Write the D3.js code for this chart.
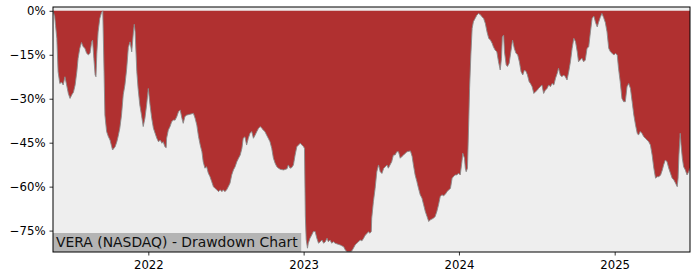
<!DOCTYPE html>
<html>
<head>
<meta charset="utf-8">
<script src="https://cdn.jsdelivr.net/npm/d3@7"></script>
<style>
  body { margin: 0; background: #fff; }
  svg { display: block; font-family: "DejaVu Sans", sans-serif; }
</style>
</head>
<body>
<svg id="chart" width="700" height="280"></svg>
<script>
const title = 'VERA (NASDAQ) - Drawdown Chart';

const dates = [
  '2021-05-22', '2021-05-26', '2021-05-28', '2021-05-31', '2021-06-03', '2021-06-07', '2021-06-11', '2021-06-15',
  '2021-06-19', '2021-06-23', '2021-06-27', '2021-07-01', '2021-07-05', '2021-07-09', '2021-07-13', '2021-07-17',
  '2021-07-20', '2021-07-24', '2021-07-28', '2021-08-01', '2021-08-05', '2021-08-09', '2021-08-13', '2021-08-17',
  '2021-08-21', '2021-08-23', '2021-08-26', '2021-08-29', '2021-08-31', '2021-09-02', '2021-09-05', '2021-09-09',
  '2021-09-13', '2021-09-16', '2021-09-19', '2021-09-21', '2021-09-25', '2021-09-29', '2021-10-03', '2021-10-07',
  '2021-10-09', '2021-10-15', '2021-10-19', '2021-10-22', '2021-10-26', '2021-10-30', '2021-11-03', '2021-11-07',
  '2021-11-11', '2021-11-15', '2021-11-19', '2021-11-23', '2021-11-27', '2021-11-29', '2021-12-01', '2021-12-03',
  '2021-12-05', '2021-12-08', '2021-12-12', '2021-12-16', '2021-12-20', '2021-12-24', '2021-12-28', '2022-01-01',
  '2022-01-05', '2022-01-09', '2022-01-13', '2022-01-17', '2022-01-21', '2022-01-25', '2022-01-29', '2022-02-02',
  '2022-02-05', '2022-02-09', '2022-02-12', '2022-02-13', '2022-02-17', '2022-02-21', '2022-02-25', '2022-03-01',
  '2022-03-05', '2022-03-09', '2022-03-13', '2022-03-17', '2022-03-21', '2022-03-24', '2022-03-28', '2022-04-01',
  '2022-04-09', '2022-04-17', '2022-04-21', '2022-04-25', '2022-04-29', '2022-05-03', '2022-05-07', '2022-05-10',
  '2022-05-14', '2022-05-18', '2022-05-22', '2022-05-26', '2022-05-30', '2022-06-03', '2022-06-07', '2022-06-11',
  '2022-06-15', '2022-06-19', '2022-06-23', '2022-06-26', '2022-06-30', '2022-07-04', '2022-07-08', '2022-07-12',
  '2022-07-16', '2022-07-20', '2022-07-24', '2022-07-28', '2022-08-01', '2022-08-05', '2022-08-09', '2022-08-12',
  '2022-08-16', '2022-08-20', '2022-08-24', '2022-08-28', '2022-09-01', '2022-09-05', '2022-09-09', '2022-09-13',
  '2022-09-17', '2022-09-21', '2022-09-25', '2022-09-28', '2022-10-02', '2022-10-06', '2022-10-10', '2022-10-14',
  '2022-10-18', '2022-10-22', '2022-10-26', '2022-10-30', '2022-11-03', '2022-11-07', '2022-11-15', '2022-11-23',
  '2022-11-26', '2022-11-30', '2022-12-04', '2022-12-08', '2022-12-12', '2022-12-16', '2022-12-20', '2022-12-24',
  '2022-12-28', '2023-01-01', '2023-01-03', '2023-01-05', '2023-01-07', '2023-01-10', '2023-01-12', '2023-01-16',
  '2023-01-20', '2023-01-24', '2023-01-28', '2023-02-01', '2023-02-05', '2023-02-09', '2023-02-13', '2023-02-17',
  '2023-02-21', '2023-02-25', '2023-02-28', '2023-03-04', '2023-03-08', '2023-03-12', '2023-03-16', '2023-03-24',
  '2023-03-28', '2023-04-05', '2023-04-09', '2023-04-13', '2023-04-20', '2023-04-24', '2023-04-28', '2023-05-02',
  '2023-05-06', '2023-05-10', '2023-05-14', '2023-05-18', '2023-05-22', '2023-05-26', '2023-05-30', '2023-06-02',
  '2023-06-06', '2023-06-09', '2023-06-10', '2023-06-14', '2023-06-18', '2023-06-22', '2023-06-26', '2023-06-30',
  '2023-07-04', '2023-07-08', '2023-07-12', '2023-07-16', '2023-07-19', '2023-07-23', '2023-07-27', '2023-07-31',
  '2023-08-04', '2023-08-08', '2023-08-12', '2023-08-16', '2023-08-20', '2023-08-24', '2023-08-28', '2023-09-01',
  '2023-09-09', '2023-09-13', '2023-09-16', '2023-09-20', '2023-09-24', '2023-09-28', '2023-10-02', '2023-10-06',
  '2023-10-10', '2023-10-14', '2023-10-18', '2023-10-22', '2023-10-26', '2023-11-02', '2023-11-06', '2023-11-10',
  '2023-11-14', '2023-11-18', '2023-11-22', '2023-11-26', '2023-11-30', '2023-12-04', '2023-12-08', '2023-12-12',
  '2023-12-16', '2023-12-19', '2023-12-23', '2023-12-27', '2023-12-31', '2024-01-04', '2024-01-08', '2024-01-10',
  '2024-01-14', '2024-01-16', '2024-01-18', '2024-01-21', '2024-01-24', '2024-01-26', '2024-01-29', '2024-02-01',
  '2024-02-04', '2024-02-08', '2024-02-12', '2024-02-16', '2024-02-20', '2024-02-24', '2024-02-28', '2024-03-03',
  '2024-03-07', '2024-03-11', '2024-03-15', '2024-03-19', '2024-03-22', '2024-03-26', '2024-03-30', '2024-04-03',
  '2024-04-07', '2024-04-10', '2024-04-12', '2024-04-15', '2024-04-17', '2024-04-21', '2024-04-24', '2024-04-28',
  '2024-05-02', '2024-05-06', '2024-05-10', '2024-05-14', '2024-05-18', '2024-05-22', '2024-05-26', '2024-05-30',
  '2024-06-03', '2024-06-07', '2024-06-10', '2024-06-14', '2024-06-17', '2024-06-21', '2024-06-25', '2024-06-29',
  '2024-07-03', '2024-07-06', '2024-07-10', '2024-07-14', '2024-07-18', '2024-07-22', '2024-07-26', '2024-07-30',
  '2024-08-03', '2024-08-07', '2024-08-11', '2024-08-15', '2024-08-19', '2024-08-22', '2024-08-26', '2024-08-30',
  '2024-09-03', '2024-09-07', '2024-09-11', '2024-09-15', '2024-09-19', '2024-09-23', '2024-09-27', '2024-10-01',
  '2024-10-05', '2024-10-08', '2024-10-12', '2024-10-16', '2024-10-20', '2024-10-24', '2024-10-28', '2024-11-01',
  '2024-11-05', '2024-11-09', '2024-11-13', '2024-11-17', '2024-11-21', '2024-11-24', '2024-11-28', '2024-12-02',
  '2024-12-06', '2024-12-10', '2024-12-14', '2024-12-18', '2024-12-22', '2024-12-26', '2024-12-30', '2025-01-03',
  '2025-01-07', '2025-01-10', '2025-01-14', '2025-01-18', '2025-01-22', '2025-01-26', '2025-01-30', '2025-02-03',
  '2025-02-07', '2025-02-11', '2025-02-15', '2025-02-19', '2025-02-23', '2025-02-26', '2025-03-02', '2025-03-06',
  '2025-03-10', '2025-03-14', '2025-03-18', '2025-03-22', '2025-03-26', '2025-03-30', '2025-04-03', '2025-04-07',
  '2025-04-11', '2025-04-15', '2025-04-19', '2025-04-23', '2025-04-26', '2025-04-30', '2025-05-04', '2025-05-08',
  '2025-05-12', '2025-05-16', '2025-05-20', '2025-05-24', '2025-05-28', '2025-05-30', '2025-06-01', '2025-06-04',
  '2025-06-06', '2025-06-09', '2025-06-12', '2025-06-16', '2025-06-20', '2025-06-24', '2025-06-27',
];

const drawdown = [
  0, -2, -5, -9.4, -20.8, -24.8, -24.4, -25.3,
  -22.5, -25.3, -28.2, -29.9, -28.7, -27.8, -25.3, -20.8,
  -16.2, -12.8, -10.8, -12.3, -12.8, -14.5, -15.0, -14.5,
  -10.6, -10.0, -16.2, -21.9, -22.5, -14.5, -7.2, -2.6,
  -0.6, 0, -20.8, -35.6, -41.2, -42.9, -44.1, -46.4,
  -47.5, -46.4, -44.7, -42.9, -40.1, -35.6, -28.7, -25.3,
  -20.0, -12.5, -10.6, -14.0, -7.2, -4.6, -7.2, -14.0,
  -20.8, -26.5, -32.1, -35.6, -39.5, -36.7, -32.1, -26.5,
  -32.1, -36.7, -40.1, -41.8, -43.5, -44.7, -44.1, -45.2,
  -44.7, -46.4, -46.7, -43.5, -40.7, -39.5, -37.8, -37.3,
  -37.3, -36.1, -34.4, -33.9, -36.7, -38.4, -36.1, -35.6,
  -35.3, -35.0, -36.7, -39.0, -42.9, -45.8, -48.1, -51.5,
  -53.7, -53.2, -55.4, -56.6, -58.3, -60.0, -60.6, -61.1,
  -61.7, -61.1, -61.7, -61.1, -61.7, -61.1, -60.0, -58.8,
  -56.0, -54.3, -53.2, -51.5, -50.3, -49.2, -46.9, -43.5,
  -43.0, -45.8, -43.5, -41.8, -41.2, -43.5, -42.4, -41.2,
  -40.1, -39.5, -40.1, -40.7, -41.2, -42.4, -43.5, -44.7,
  -46.9, -50.3, -52.0, -53.2, -53.7, -54.1, -54.3, -53.9,
  -52.6, -53.7, -53.5, -52.6, -49.2, -46.4, -45.8, -45.2,
  -45.8, -46.4, -47.0, -70.0, -78.0, -81.0, -79.3, -77.6,
  -76.5, -75.3, -75.3, -77.6, -79.3, -78.8, -78.2, -79.3,
  -78.8, -77.6, -78.8, -78.2, -79.3, -78.8, -79.3, -79.7,
  -79.9, -80.5, -81.6, -82.2, -82.2, -82.0, -81.0, -79.9,
  -79.3, -78.8, -78.2, -78.5, -77.6, -76.5, -76.0, -75.4,
  -75.9, -75.3, -70.8, -65.1, -60.6, -54.9, -52.6, -54.9,
  -55.5, -53.8, -53.2, -52.6, -53.7, -52.6, -51.5, -49.2,
  -49.2, -48.1, -48.1, -50.3, -49.7, -49.2, -48.6, -48.1,
  -47.8, -49.7, -52.6, -56.0, -58.2, -60.6, -62.8, -63.9,
  -66.2, -68.5, -70.2, -71.9, -71.3, -70.8, -70.2, -68.5,
  -66.2, -63.4, -62.8, -63.1, -62.6, -61.7, -61.1, -60.6,
  -57.1, -56.6, -56.0, -56.0, -55.4, -56.0, -51.5, -48.6,
  -50.3, -53.7, -54.9, -53.7, -37.8, -26.5, -15.1, -6.0,
  -3.7, -2.6, -1.5, -0.9, -1.3, -2.0, -2.6, -4.3,
  -7.2, -9.4, -10.0, -11.1, -12.3, -13.4, -14.0, -17.4,
  -20.2, -16.2, -8.9, -8.3, -14.0, -18.5, -19.0, -17.9,
  -14.0, -10.0, -12.8, -14.5, -15.0, -17.4, -20.8, -21.9,
  -20.2, -20.8, -21.9, -24.2, -24.8, -25.9, -28.2, -27.6,
  -27.1, -26.5, -25.9, -25.3, -28.2, -27.1, -26.5, -25.3,
  -25.9, -24.8, -25.3, -23.0, -21.3, -19.6, -21.9, -22.5,
  -21.9, -22.5, -23.6, -20.8, -17.4, -12.8, -9.4, -10.6,
  -14.0, -17.4, -16.8, -16.2, -17.4, -16.8, -12.8, -12.3,
  -7.2, -2.6, -1.8, -4.0, -5.5, -4.0, -2.3, -0.9,
  -2.3, -4.0, -7.2, -12.8, -14.0, -14.5, -15.1, -14.5,
  -15.1, -19.6, -24.2, -29.9, -31.0, -31.0, -25.9, -24.8,
  -26.5, -31.0, -35.6, -39.0, -41.8, -42.4, -41.2, -41.8,
  -42.9, -43.5, -44.1, -44.7, -45.8, -49.2, -53.7, -57.1,
  -56.6, -56.6, -56.0, -54.3, -52.6, -50.9, -51.5, -53.7,
  -55.4, -57.1, -57.7, -58.8, -60.0, -57.1, -49.2, -41.8,
  -45.8, -50.3, -53.2, -54.3, -56.0, -54.9, -53.7,
];

const yTicks = [0, -15, -30, -45, -60, -75];
const xTickYears = [2022, 2023, 2024, 2025];
const yDomain = [-82.3, 1.3];

const width = 700;
const height = 280;
const margin = { top: 7, right: 10, bottom: 28, left: 53 };
const innerW = width - margin.left - margin.right;
const innerH = height - margin.top - margin.bottom;

const parse = d3.timeParse('%Y-%m-%d');
const points = dates.map((d, i) => ({ date: parse(d), value: drawdown[i] }));

const svg = d3.select('#chart');
const g = svg.append('g').attr('transform', `translate(${margin.left},${margin.top})`);

const x = d3.scaleTime().domain(d3.extent(points, (d) => d.date)).range([0, innerW]);
const y = d3.scaleLinear().domain(yDomain).range([innerH, 0]);

g.append('clipPath').attr('id', 'plot-clip')
  .append('rect').attr('width', innerW).attr('height', innerH);

g.append('rect')
  .attr('width', innerW)
  .attr('height', innerH)
  .attr('fill', '#eeeeee');

const plot = g.append('g').attr('clip-path', 'url(#plot-clip)');

const area = d3.area()
  .x((d) => x(d.date))
  .y0(y(0))
  .y1((d) => y(d.value));

const line = d3.line()
  .x((d) => x(d.date))
  .y((d) => y(d.value));

plot.append('path')
  .datum(points)
  .attr('d', area)
  .attr('fill', '#b03030');

plot.append('path')
  .datum(points)
  .attr('d', line)
  .attr('fill', 'none')
  .attr('stroke', '#8a8a8a')
  .attr('stroke-width', 0.9);

const fmtPct = (v) => (v < 0 ? '\u2212' + Math.abs(v) : v) + '%';

const yAxis = g.append('g')
  .call(d3.axisLeft(y).tickValues(yTicks).tickSize(3.5).tickPadding(4).tickFormat(fmtPct));

const xAxis = g.append('g')
  .attr('transform', `translate(0,${innerH})`)
  .call(d3.axisBottom(x)
    .tickValues(xTickYears.map((yr) => new Date(yr, 0, 1)))
    .tickSize(3.5)
    .tickPadding(5)
    .tickFormat(d3.timeFormat('%Y')));

[yAxis, xAxis].forEach((ax) => {
  ax.select('.domain').remove();
  ax.selectAll('line').attr('stroke', '#000').attr('stroke-width', 0.8);
  ax.selectAll('text')
    .attr('fill', '#000')
    .style('font-family', '"DejaVu Sans", sans-serif')
    .style('font-size', '11.7px');
});

// title badge at bottom-left of the plot
const badge = g.append('g');
const badgeRect = badge.append('rect').attr('fill', '#b4b4b4');
const badgeText = badge.append('text')
  .attr('x', 3)
  .attr('y', innerH - 5)
  .attr('fill', '#111')
  .style('font-size', '13.9px')
  .text(title);
const bb = badgeText.node().getBBox();
badgeRect
  .attr('x', 0)
  .attr('y', innerH - 19)
  .attr('width', bb.width + 6)
  .attr('height', 19);

g.append('rect')
  .attr('width', innerW)
  .attr('height', innerH)
  .attr('fill', 'none')
  .attr('stroke', '#000')
  .attr('stroke-width', 1);
</script>
</body>
</html>
